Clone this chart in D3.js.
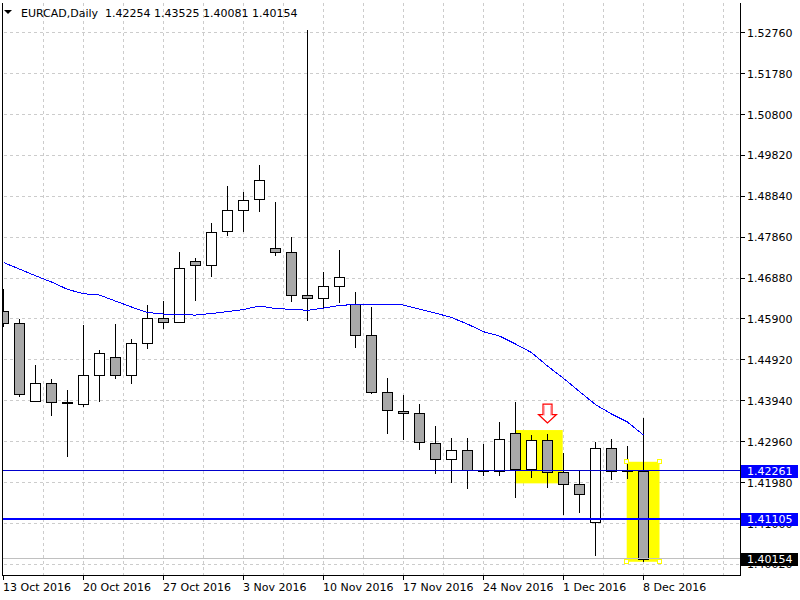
<!DOCTYPE html>
<html><head><meta charset="utf-8">
<script src="https://cdn.jsdelivr.net/npm/d3@7"></script>
<style>
html,body{margin:0;padding:0;background:#fff;}
svg{display:block;font-family:"DejaVu Sans",sans-serif;font-size:11px;}
</style></head><body>
<svg id="chart" width="800" height="600"></svg>
<script>
// ---------------- data ----------------
const symbolTitle = "EURCAD,Daily";
const dates = ["2016-10-13","2016-10-14","2016-10-17","2016-10-18","2016-10-19","2016-10-20","2016-10-21",
  "2016-10-24","2016-10-25","2016-10-26","2016-10-27","2016-10-28","2016-10-31","2016-11-01","2016-11-02",
  "2016-11-03","2016-11-04","2016-11-07","2016-11-08","2016-11-09","2016-11-10","2016-11-11","2016-11-14",
  "2016-11-15","2016-11-16","2016-11-17","2016-11-18","2016-11-21","2016-11-22","2016-11-23","2016-11-24",
  "2016-11-25","2016-11-28","2016-11-29","2016-11-30","2016-12-01","2016-12-02","2016-12-05","2016-12-06",
  "2016-12-07","2016-12-08"];
const opens  = [1.46084,1.45796,1.43927,1.44358,1.43910,1.43855,1.44550,1.44981,1.44550,1.45317,1.45916,1.45820,1.47277,1.47186,1.48008,1.48504,1.48768,1.47593,1.47498,1.46467,1.46395,1.46683,1.46251,1.45509,1.44143,1.43687,1.43639,1.42920,1.42537,1.42760,1.42276,1.42264,1.43160,1.42297,1.42995,1.42225,1.41938,1.41027,1.42801,1.42264,1.42254];
const highs  = [1.46611,1.45892,1.44797,1.44461,1.44198,1.45755,1.45156,1.45779,1.45420,1.46235,1.46330,1.47498,1.47361,1.48200,1.49086,1.48935,1.49590,1.48703,1.47857,1.52825,1.47018,1.47553,1.46539,1.46179,1.44478,1.44071,1.43855,1.43335,1.43055,1.43055,1.42904,1.43431,1.43910,1.43131,1.43143,1.42681,1.42273,1.42944,1.43016,1.42849,1.43525];
const lows   = [1.45700,1.44037,1.43903,1.43582,1.42599,1.43798,1.43917,1.44468,1.44349,1.45173,1.45667,1.45796,1.46338,1.46913,1.47895,1.47991,1.48470,1.47416,1.46314,1.45844,1.46156,1.46275,1.45216,1.44109,1.43150,1.42999,1.42767,1.42185,1.41969,1.41837,1.42149,1.42144,1.41617,1.42101,1.41856,1.41209,1.41257,1.40227,1.42041,1.42058,1.40081];
const closes = [1.45796,1.44095,1.44358,1.43903,1.43879,1.44550,1.45077,1.44550,1.45317,1.45916,1.45820,1.47114,1.47186,1.47977,1.48504,1.48744,1.49223,1.47498,1.46467,1.46395,1.46683,1.46898,1.45509,1.44143,1.43711,1.43639,1.42944,1.42537,1.42760,1.42269,1.42261,1.43023,1.42297,1.42995,1.42225,1.41938,1.41698,1.42801,1.42257,1.42257,1.40154];
const maValues = [1.47253,1.47097,1.46937,1.46786,1.46611,1.46505,1.46474,1.46330,1.46187,1.46055,1.46019,1.46000,1.45995,1.46031,1.46079,1.46127,1.46211,1.46151,1.46132,1.46108,1.46163,1.46223,1.46251,1.46251,1.46251,1.46235,1.46139,1.46043,1.45935,1.45779,1.45595,1.45492,1.45300,1.45096,1.44773,1.44478,1.44162,1.43850,1.43623,1.43431,1.43119];
const priceTicks = [1.52760,1.51780,1.50800,1.49820,1.48840,1.47860,1.46880,1.45900,1.44920,1.43940,1.42960,1.41980,1.41000,1.40020];
const dateTickIndex = [0,5,10,15,20,25,30,35,40];
const levelThin = 1.42261;
const levelThick = 1.41105;
const bidPrice = 1.40154;
const boxStart  = [32.0, 38.95];
const boxEnd    = [34.95, 41.0];
const boxTop    = [1.43239, 1.42479];
const boxBottom = [1.41962, 1.40083];
const arrowIndex = 34;
const arrowTipPrice = 1.43407;

// ---------------- layout ----------------
const svg = d3.select("#chart");
const L = 2.5, R = 740.5, T = 2.5, B = 575.5;
const x = d3.scaleLinear().domain([0, 40]).range([3.5, 643.5]);
const y = d3.scaleLinear().domain([1.40020, 1.52760]).range([564.4, 32.7]);
const fmt = d3.format(".5f");
const parse = d3.timeParse("%Y-%m-%d");
const dfmt = d3.timeFormat("%-d %b %Y");
const snap = v => Math.round(v - 0.5) + 0.5;

svg.append("defs").append("clipPath").attr("id","plot")
  .append("rect").attr("x",L).attr("y",T).attr("width",R-L).attr("height",B-T);

// grid
const grid = svg.append("g").attr("stroke","#cccccc").attr("stroke-dasharray","3,3")
  .attr("shape-rendering","crispEdges");
grid.selectAll("line.h").data(priceTicks).join("line")
  .attr("x1",L+1).attr("x2",R).attr("y1",d=>snap(y(d))).attr("y2",d=>snap(y(d)));
const vIdx = d3.range(2.5, 46, 2.5).filter(i => x(i) < R - 2);
grid.selectAll("line.v").data(vIdx).join("line")
  .attr("x1",d=>snap(x(d))).attr("x2",d=>snap(x(d))).attr("y1",T).attr("y2",B);

const plot = svg.append("g").attr("clip-path","url(#plot)");

// yellow highlight rectangles (behind candles)
plot.append("g").selectAll("rect").data(boxStart).join("rect")
  .attr("x",(d,i)=>x(d)).attr("width",(d,i)=>x(boxEnd[i])-x(d))
  .attr("y",(d,i)=>y(boxTop[i])).attr("height",(d,i)=>y(boxBottom[i])-y(boxTop[i]))
  .attr("fill","#ffff00");

// candles
const idx = d3.range(opens.length);
const cg = plot.append("g").attr("shape-rendering","crispEdges");
cg.selectAll("line").data(idx).join("line")
  .attr("x1",i=>x(i)).attr("x2",i=>x(i))
  .attr("y1",i=>Math.round(y(highs[i]))).attr("y2",i=>Math.round(y(lows[i])))
  .attr("stroke","#000").attr("stroke-width",1);
cg.selectAll("rect").data(idx).join("rect")
  .attr("x",i=>x(i)-5).attr("width",10)
  .attr("y",i=>snap(y(Math.max(opens[i],closes[i]))))
  .attr("height",i=>Math.max(1, Math.round(Math.abs(y(opens[i])-y(closes[i])))))
  .attr("fill",i=>closes[i] >= opens[i] ? "#ffffff" : "#a8a8a8")
  .attr("stroke","#000").attr("stroke-width",1);

// moving average
plot.append("path").datum(maValues)
  .attr("d", d3.line().x((d,i)=>x(i)).y(d=>y(d)))
  .attr("fill","none").attr("stroke","#0000ff").attr("stroke-width",1)
  .attr("shape-rendering","crispEdges");

// horizontal levels
plot.append("line").attr("x1",L).attr("x2",R).attr("y1",snap(y(bidPrice))).attr("y2",snap(y(bidPrice)))
  .attr("stroke","#c0c0c0").attr("shape-rendering","crispEdges");
plot.append("line").attr("x1",L).attr("x2",R).attr("y1",snap(y(levelThin))).attr("y2",snap(y(levelThin)))
  .attr("stroke","#0000cc").attr("stroke-width",1).attr("shape-rendering","crispEdges");
plot.append("line").attr("x1",L).attr("x2",R).attr("y1",Math.round(y(levelThick))).attr("y2",Math.round(y(levelThick)))
  .attr("stroke","#0000ff").attr("stroke-width",2).attr("shape-rendering","crispEdges");

// selection handles of the second rectangle
const hx = [x(boxStart[1]), x(boxEnd[1])], hy = [y(boxTop[1]), y(boxBottom[1])];
const handles = [];
hx.forEach(a => hy.forEach(b => handles.push([a,b])));
plot.append("g").selectAll("rect").data(handles).join("rect")
  .attr("x",d=>snap(d[0])-2).attr("y",d=>snap(d[1])-2).attr("width",4).attr("height",4)
  .attr("fill","#ffffff").attr("stroke","#ffff00").attr("shape-rendering","crispEdges");

// red arrow
const ax = x(arrowIndex), ay = y(arrowTipPrice);
plot.append("path")
  .attr("d",`M${ax},${ay} L${ax-9},${ay-8.5} L${ax-4.5},${ay-8.5} L${ax-4.5},${ay-19} L${ax+4.5},${ay-19} L${ax+4.5},${ay-8.5} L${ax+9},${ay-8.5} Z`)
  .attr("fill","#ffffff").attr("stroke","#ff0000").attr("stroke-width",1.2);
plot.append("path")
  .attr("d",`M${ax-3},${ay-17.5} L${ax-3},${ay-7.5} M${ax+3},${ay-17.5} L${ax+3},${ay-7.5}`)
  .attr("stroke","#ffb0c0").attr("stroke-width",1);

// frame
const frame = svg.append("g").attr("stroke","#000").attr("shape-rendering","crispEdges");
frame.append("line").attr("x1",L).attr("x2",L).attr("y1",T).attr("y2",B);
frame.append("line").attr("x1",L).attr("x2",R).attr("y1",B).attr("y2",B);
frame.append("line").attr("x1",R).attr("x2",R).attr("y1",T).attr("y2",B);

// right axis ticks + labels
const ra = svg.append("g");
ra.selectAll("line").data(priceTicks).join("line")
  .attr("x1",R).attr("x2",R+4).attr("y1",d=>snap(y(d))).attr("y2",d=>snap(y(d)))
  .attr("stroke","#000").attr("shape-rendering","crispEdges");
ra.selectAll("text").data(priceTicks).join("text")
  .attr("x",747).attr("y",d=>y(d)+4).attr("fill","#000").text(d=>fmt(d));

// price label boxes
const boxes = [
  {p: levelThin, bg: "#0000ff"},
  {p: levelThick, bg: "#0000ff"},
  {p: bidPrice, bg: "#000000"}
];
const bg = svg.append("g");
bg.selectAll("rect").data(boxes).join("rect")
  .attr("x",741).attr("width",57).attr("y",d=>Math.round(y(d.p))-6).attr("height",13)
  .attr("fill",d=>d.bg);
bg.selectAll("text").data(boxes).join("text")
  .attr("x",747).attr("y",d=>y(d.p)+4).attr("fill","#fff").text(d=>fmt(d.p));

// bottom axis
const ba = svg.append("g");
ba.selectAll("line").data(dateTickIndex).join("line")
  .attr("x1",i=>x(i)-0.5).attr("x2",i=>x(i)-0.5).attr("y1",B).attr("y2",B+4)
  .attr("stroke","#000").attr("shape-rendering","crispEdges");
ba.selectAll("text").data(dateTickIndex).join("text")
  .attr("x",i=>x(i)-0.5).attr("y",591).attr("fill","#000")
  .text(i=>dfmt(parse(dates[i])));

// title
const last = opens.length - 1;
svg.append("path").attr("d","M4,10 L12,10 L8,14 Z").attr("fill","#000");
svg.append("text").attr("x",21).attr("y",16.5).attr("fill","#000").style("white-space","pre")
  .text(`${symbolTitle}  ${fmt(opens[last])} ${fmt(highs[last])} ${fmt(lows[last])} ${fmt(closes[last])}`);
</script>
</body></html>
